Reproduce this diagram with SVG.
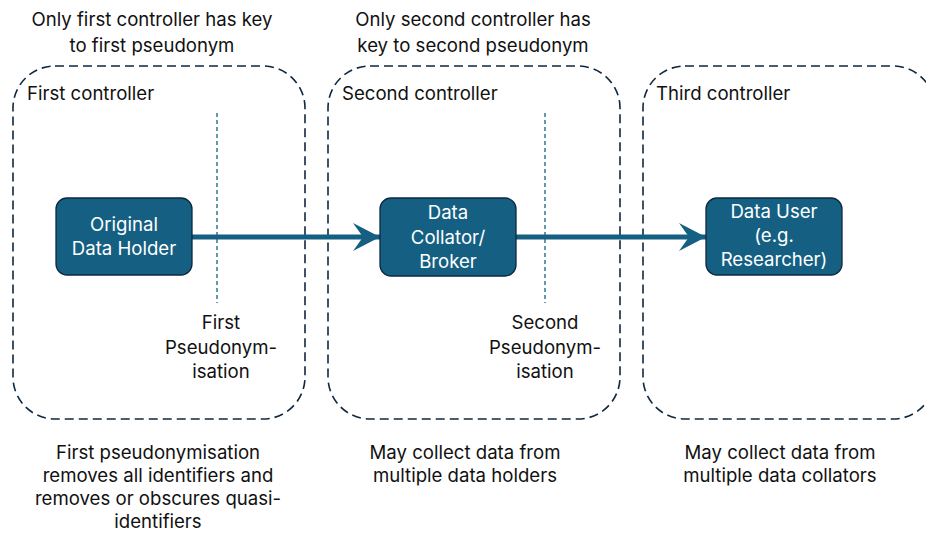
<svg xmlns="http://www.w3.org/2000/svg" width="926" height="533" viewBox="0 0 926 533">
  <style>
    .ctrl { fill: none; stroke: #0e2841; stroke-width: 1.6; stroke-dasharray: 9 5; }
    .split { stroke: #156082; stroke-width: 1.3; stroke-dasharray: 4 3; }
    .node { fill: #156082; stroke: #0e2841; stroke-width: 1.3; }
    .lbl { font-family: Inter, "Open Sans", "Liberation Sans", sans-serif; font-size: 18.6px; fill: #111; }
    .ntext { font-family: Inter, "Open Sans", "Liberation Sans", sans-serif; font-size: 18.6px; fill: #ffffff; text-anchor: middle; }
    .mid { text-anchor: middle; }
    .flow { stroke: #156082; stroke-width: 5; fill: none; }
  </style>
  <defs>
    <marker id="chev" markerUnits="userSpaceOnUse" markerWidth="30" markerHeight="32" refX="28" refY="16" orient="auto">
      <path d="M28,16 L1,2 L11,16 L1,30 Z" fill="#156082"/>
    </marker>
  </defs>
  <rect width="926" height="533" fill="#ffffff"/>

  <!-- controller boundaries -->
  <g id="first-controller">
    <rect class="ctrl" x="13" y="66" width="292" height="353" rx="42"/>
    <text class="lbl" x="27" y="100">First controller</text>
    <line class="split" x1="217" y1="113" x2="217" y2="303"/>
    <text class="lbl mid" x="221" y="329">First</text>
    <text class="lbl mid" x="221" y="354">Pseudonym-</text>
    <text class="lbl mid" x="221" y="378">isation</text>
  </g>
  <g id="second-controller">
    <rect class="ctrl" x="328" y="66" width="292" height="353" rx="42"/>
    <text class="lbl" x="342" y="100">Second controller</text>
    <line class="split" x1="545" y1="113" x2="545" y2="303"/>
    <text class="lbl mid" x="545" y="329">Second</text>
    <text class="lbl mid" x="545" y="354">Pseudonym-</text>
    <text class="lbl mid" x="545" y="378">isation</text>
  </g>
  <g id="third-controller">
    <rect class="ctrl" x="643" y="66" width="292" height="353" rx="42"/>
    <text class="lbl" x="656" y="100">Third controller</text>
  </g>

  <!-- notes above and below -->
  <g id="notes">
    <text class="lbl mid" x="152" y="26">Only first controller has key</text>
    <text class="lbl mid" x="152" y="52">to first pseudonym</text>
    <text class="lbl mid" x="473" y="26">Only second controller has</text>
    <text class="lbl mid" x="473" y="52">key to second pseudonym</text>
    <text class="lbl mid" x="158" y="459">First pseudonymisation</text>
    <text class="lbl mid" x="158" y="482">removes all identifiers and</text>
    <text class="lbl mid" x="158" y="505">removes or obscures quasi-</text>
    <text class="lbl mid" x="158" y="528">identifiers</text>
    <text class="lbl mid" x="465" y="459">May collect data from</text>
    <text class="lbl mid" x="465" y="482">multiple data holders</text>
    <text class="lbl mid" x="780" y="459">May collect data from</text>
    <text class="lbl mid" x="780" y="482">multiple data collators</text>
  </g>

  <!-- data flow connectors -->
  <g id="connectors">
    <line class="flow" x1="192" y1="237" x2="380" y2="237" marker-end="url(#chev)"/>
    <line class="flow" x1="516" y1="237" x2="706" y2="237" marker-end="url(#chev)"/>
  </g>

  <!-- nodes -->
  <g id="original-data-holder">
    <rect class="node" x="56" y="198" width="136" height="77" rx="11"/>
    <text class="ntext" x="124" y="231">Original</text>
    <text class="ntext" x="124" y="255">Data Holder</text>
  </g>
  <g id="data-collator">
    <rect class="node" x="380" y="198" width="136" height="78" rx="11"/>
    <text class="ntext" x="448" y="219">Data</text>
    <text class="ntext" x="448" y="244">Collator/</text>
    <text class="ntext" x="448" y="268">Broker</text>
  </g>
  <g id="data-user">
    <rect class="node" x="706" y="198" width="136" height="77" rx="11"/>
    <text class="ntext" x="774" y="218">Data User</text>
    <text class="ntext" x="774" y="242">(e.g.</text>
    <text class="ntext" x="774" y="266">Researcher)</text>
  </g>
</svg>
